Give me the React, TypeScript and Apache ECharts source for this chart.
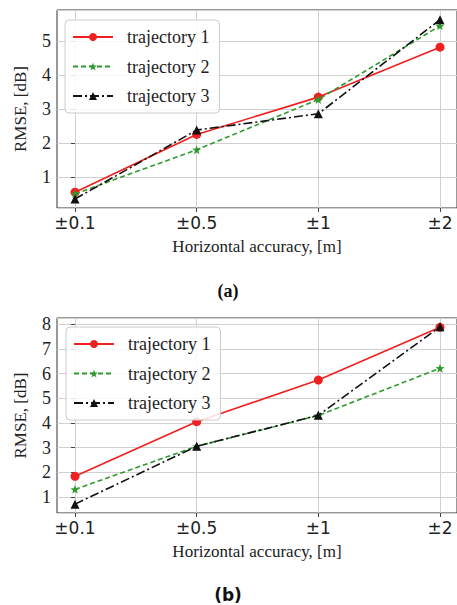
import React, { useEffect, useRef } from "react";
import * as echarts from "echarts";

const categories = ["±0.1", "±0.5", "±1", "±2"];
const seriesNames = ["trajectory 1", "trajectory 2", "trajectory 3"];
const a1 = [0.55, 2.25, 3.35, 4.82];
const a2 = [0.5, 1.8, 3.28, 5.45];
const a3 = [0.35, 2.38, 2.86, 5.63];
const b1 = [1.83, 4.05, 5.74, 7.88];
const b2 = [1.3, 3.05, 4.3, 6.22];
const b3 = [0.7, 3.05, 4.31, 7.9];

const SERIF = "'Liberation Serif', 'Times New Roman', serif";
const SANS = "'DejaVu Sans', sans-serif";
const STAR =
  "path://M0,-10 L2.35,-3.24 L9.51,-3.09 L3.8,1.24 L5.88,8.09 L0,4 L-5.88,8.09 L-3.8,1.24 L-9.51,-3.09 L-2.35,-3.24 Z";

const styles = [
  { color: "#f02020", type: "solid" as any, symbol: "circle", size: 9 },
  { color: "#2e9a2e", type: [5, 3] as any, symbol: STAR, size: 9 },
  { color: "#111111", type: [9, 3, 2, 3] as any, symbol: "triangle", size: 9 },
];

export default function App() {
  const ref = useRef<HTMLDivElement>(null);
  useEffect(() => {
    const chart = echarts.init(ref.current!, null, { renderer: "svg" });
    const panels = [
      { top: 10, height: 198, min: 0.085, max: 5.915, split: 6, data: [a1, a2, a3], legendTop: 20 },
      { top: 318, height: 195, min: 0.34, max: 8.26, split: 8, data: [b1, b2, b3], legendTop: 327 },
    ];
    const grid: any[] = [];
    const xAxis: any[] = [];
    const yAxis: any[] = [];
    const series: any[] = [];
    const legend: any[] = [];
    panels.forEach((p, pi) => {
      grid.push({ left: 57, width: 401, top: p.top, height: p.height, show: true, borderColor: "#333", borderWidth: 1, backgroundColor: "transparent" });
      grid.push({ left: 75, width: 365, top: p.top, height: p.height });
      const gA = pi * 2;
      const gB = pi * 2 + 1;
      xAxis.push({
        type: "value", gridIndex: gA, min: -0.148, max: 3.148,
        axisLine: { show: false }, axisTick: { show: false }, axisLabel: { show: false }, splitLine: { show: false },
        name: "Horizontal accuracy, [m]", nameLocation: "middle", nameGap: 30,
        nameTextStyle: { fontFamily: SERIF, fontSize: 17, color: "#222" },
      });
      xAxis.push({
        type: "value", gridIndex: gB, min: 0, max: 3, interval: 1,
        axisLine: { show: false },
        axisTick: { show: true, length: 4, lineStyle: { color: "#444" } },
        axisLabel: { formatter: (v: number) => categories[Math.round(v)] ?? "", fontFamily: SANS, fontSize: 17, color: "#222", margin: 6 },
        splitLine: { show: true, lineStyle: { color: "#d0d0d0", width: 1 } },
      });
      yAxis.push({
        type: "value", gridIndex: gA, min: p.min, max: p.max, splitNumber: p.split,
        axisLine: { show: false },
        axisTick: { show: true, length: 4, lineStyle: { color: "#444" } },
        axisLabel: {
          formatter: (v: number) => (Math.abs(v - Math.round(v)) < 1e-6 ? String(Math.round(v)) : ""),
          fontFamily: SERIF, fontSize: 18, color: "#222", margin: 6, showMinLabel: false, showMaxLabel: false,
        },
        splitLine: { show: true, lineStyle: { color: "#d0d0d0", width: 1 } },
        name: "RMSE, [dB]", nameLocation: "middle", nameGap: 28,
        nameTextStyle: { fontFamily: SERIF, fontSize: 17, color: "#222" },
      });
      yAxis.push({
        type: "value", gridIndex: gB, min: p.min, max: p.max, show: false,
        splitLine: { show: false },
      });
      p.data.forEach((vals, si) => {
        const st = styles[si];
        series.push({
          type: "line", name: seriesNames[si], xAxisIndex: gB, yAxisIndex: gB,
          data: vals.map((v, i) => [i, v]),
          symbol: st.symbol, symbolSize: st.size,
          lineStyle: { color: st.color, width: 1.6, type: st.type },
          itemStyle: { color: st.color },
          z: 3 + si,
        });
      });
      legend.push({
        data: seriesNames, orient: "vertical", left: 65 + pi, top: p.legendTop,
        itemWidth: 40, itemHeight: 10, itemGap: 9.5,
        padding: [7, 10, 7, 7],
        backgroundColor: "rgba(255,255,255,0.85)", borderColor: "#cccccc", borderWidth: 1, borderRadius: 4,
        textStyle: { fontFamily: SERIF, fontSize: 18, color: "#222", lineHeight: 20, padding: [0, 0, 0, 9] },
        selectedMode: false,
      });
    });
    chart.setOption({
      animation: false,
      backgroundColor: "#ffffff",
      textStyle: { fontFamily: SERIF },
      grid, xAxis, yAxis, series, legend,
      graphic: [
        { type: "text", x: 228, y: 291, style: { text: "(a)", font: `bold 18px ${SERIF}`, fill: "#111", align: "center", verticalAlign: "middle" } },
        { type: "text", x: 228, y: 595, style: { text: "(b)", font: `bold 17px ${SANS}`, fill: "#111", align: "center", verticalAlign: "middle" } },
      ],
    });
    return () => chart.dispose();
  }, []);
  return <div ref={ref} style={{ position: "absolute", left: 0, top: 0, width: 457, height: 605 }} />;
}
